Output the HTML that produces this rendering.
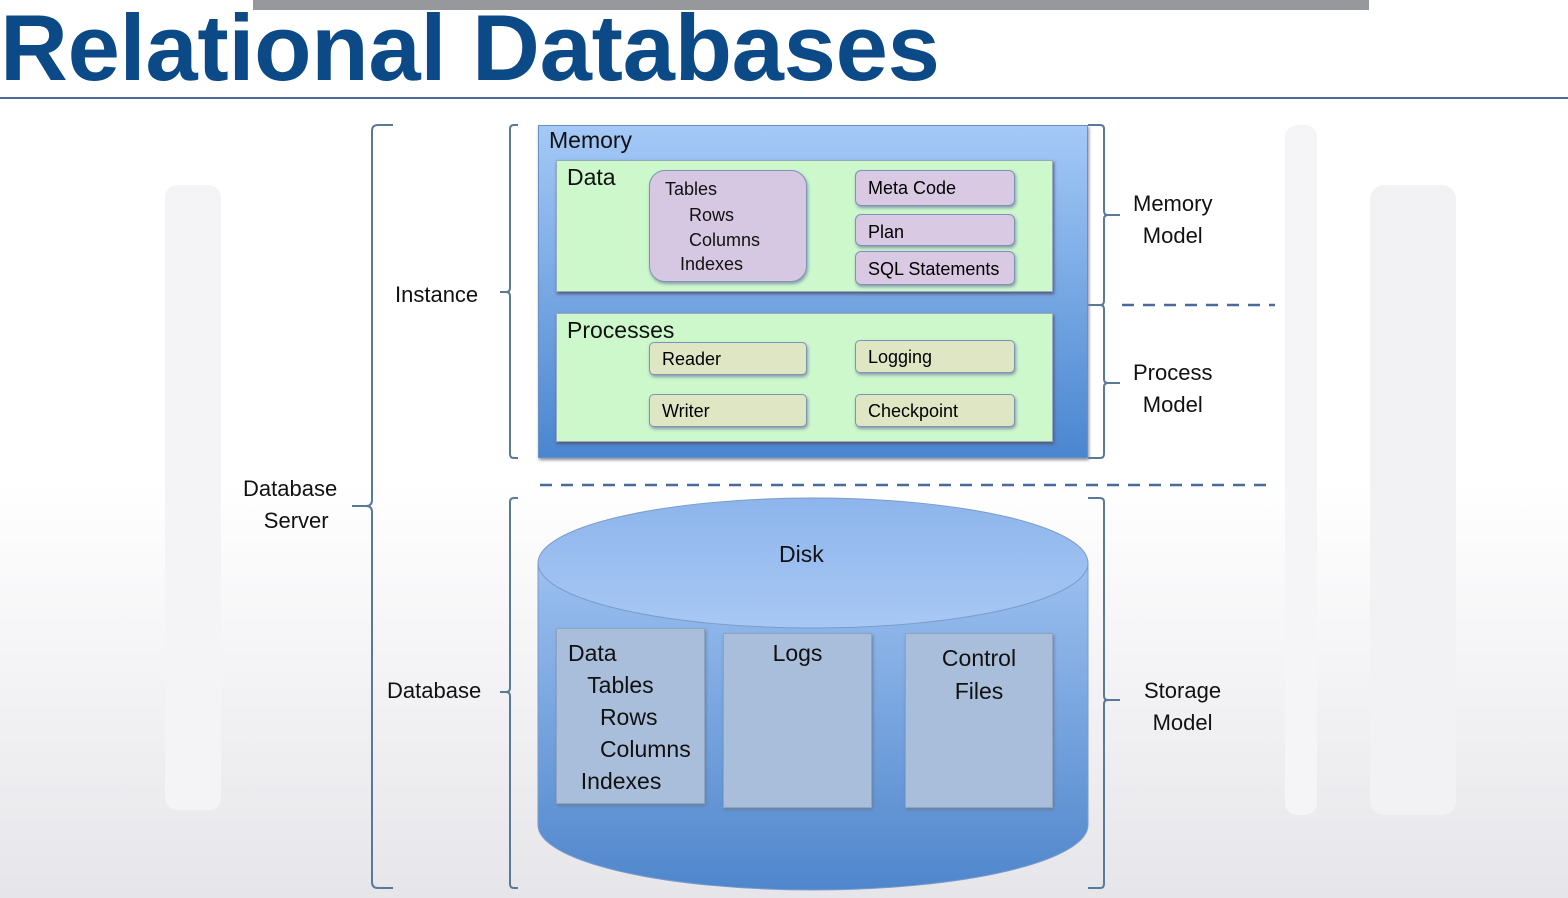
<!DOCTYPE html>
<html><head><meta charset="utf-8"><style>
body{margin:0;width:1568px;height:898px;overflow:hidden;font-family:"Liberation Sans",sans-serif;background:linear-gradient(#fff 0,#fff 480px,#e6e6ea 898px);position:relative}
.a{position:absolute}
.t{position:absolute;font-size:22px;color:#111;white-space:nowrap}
.pb{position:absolute;background:#d9c9e3;border:1.5px solid #7d94b8;border-radius:6px;box-shadow:1px 2px 3px #8899aa;font-size:18px;box-sizing:border-box;padding:4px 12px}
.gb{position:absolute;background:#dfe6c4;border:1.5px solid #7d94b8;border-radius:5px;box-shadow:1px 2px 3px #8899aa;font-size:18px;box-sizing:border-box;padding:6px 12px}
.db{position:absolute;background:#a9bedb;border:1px solid #8fa4c2;box-shadow:1px 2px 3px #6680a0;box-sizing:border-box;font-size:23px;color:#111}
</style></head><body>
<div class="a" style="left:0;top:-2px;font-size:94px;font-weight:bold;color:#0b4a87;letter-spacing:-0.3px;line-height:100px;white-space:nowrap">Relational Databases</div>
<div class="a" style="left:253px;top:0;width:1116px;height:10px;background:#97989c"></div>
<div class="a" style="left:0;top:97px;width:1568px;height:2px;background:#4a6a9a"></div>
<div class="a" style="left:165px;top:185px;width:56px;height:625px;background:#f4f4f6;border-radius:12px"></div>
<div class="a" style="left:1285px;top:125px;width:32px;height:690px;background:#f5f5f7;border-radius:12px"></div>
<div class="a" style="left:1370px;top:185px;width:86px;height:630px;background:#f2f2f4;border-radius:14px"></div>

<svg class="a" style="left:0;top:0" width="1568" height="898">
<g fill="none" stroke="#5a7898" stroke-width="2">
<path d="M393 125 H378 Q372 125 372 131 V500 Q372 506 366 506 H352 M366 506 Q372 506 372 512 V882 Q372 888 378 888 H393"/>
<path d="M518 125 H514 Q510 125 510 129 V288 Q510 292 506 292 H500 M506 292 Q510 292 510 296 V454 Q510 458 514 458 H518"/>
<path d="M518 498 H514 Q510 498 510 502 V688 Q510 692 506 692 H500 M506 692 Q510 692 510 696 V884 Q510 888 514 888 H518"/>
<path d="M1088 125 H1100 Q1104 125 1104 129 V211 Q1104 215 1108 215 H1120 M1108 215 Q1104 215 1104 219 V301 Q1104 305 1100 305 H1088"/>
<path d="M1088 305 H1100 Q1104 305 1104 309 V379 Q1104 383 1108 383 H1120 M1108 383 Q1104 383 1104 387 V454 Q1104 458 1100 458 H1088"/>
<path d="M1088 498 H1100 Q1104 498 1104 502 V696 Q1104 700 1108 700 H1120 M1108 700 Q1104 700 1104 704 V884 Q1104 888 1100 888 H1088"/>
<path d="M1122 305 H1275 M540 485 H1275" stroke="#4a6a9a" stroke-dasharray="12 9" stroke-width="2.5"/>
</g>
<defs>
<linearGradient id="cy" x1="0" y1="0" x2="0" y2="1"><stop offset="0" stop-color="#9cc0f0"/><stop offset="1" stop-color="#4f86cc"/></linearGradient>
<linearGradient id="top" x1="0" y1="0" x2="0" y2="1"><stop offset="0" stop-color="#8db5ec"/><stop offset="1" stop-color="#a8c8f4"/></linearGradient>
</defs>
<path d="M538 563 V825 A275 65 0 0 0 1088 825 V563 Z" fill="url(#cy)" stroke="#7a9cc8"/>
<ellipse cx="813" cy="563" rx="275" ry="65" fill="url(#top)" stroke="#7a9cc8"/>
</svg>

<div class="a" style="left:538px;top:125px;width:550px;height:333px;background:linear-gradient(#a4c9f7,#4a86d0);border:1px solid #6a90c0;box-sizing:border-box;box-shadow:1px 2px 3px #889"></div>
<div class="t" style="left:549px;top:127px;font-size:23px">Memory</div>
<div class="a" style="left:556px;top:160px;width:497px;height:132px;background:#ccf8cc;border:1px solid #9ab;box-sizing:border-box;box-shadow:1px 2px 3px #557"></div>
<div class="t" style="left:567px;top:164px;font-size:23px">Data</div>
<div class="a" style="left:649px;top:170px;width:158px;height:112px;background:#d6c8e2;border:1.5px solid #7d94b8;border-radius:16px;box-sizing:border-box;box-shadow:1px 2px 3px #8899aa"></div>
<div class="t" style="left:665px;top:179px;font-size:18px">Tables</div>
<div class="t" style="left:689px;top:205px;font-size:18px">Rows</div>
<div class="t" style="left:689px;top:230px;font-size:18px">Columns</div>
<div class="t" style="left:680px;top:254px;font-size:18px">Indexes</div>
<div class="pb" style="left:855px;top:170px;width:160px;height:36px;padding-top:7px">Meta Code</div>
<div class="pb" style="left:855px;top:214px;width:160px;height:32px;padding-top:7px">Plan</div>
<div class="pb" style="left:855px;top:251px;width:160px;height:34px;padding-top:7px">SQL Statements</div>
<div class="a" style="left:556px;top:313px;width:497px;height:129px;background:#ccf8cc;border:1px solid #9ab;box-sizing:border-box;box-shadow:1px 2px 3px #557"></div>
<div class="t" style="left:567px;top:317px;font-size:23px">Processes</div>
<div class="gb" style="left:649px;top:342px;width:158px;height:33px">Reader</div>
<div class="gb" style="left:855px;top:340px;width:160px;height:33px">Logging</div>
<div class="gb" style="left:649px;top:394px;width:158px;height:33px">Writer</div>
<div class="gb" style="left:855px;top:394px;width:160px;height:33px">Checkpoint</div>

<div class="t" style="left:779px;top:541px;font-size:23px">Disk</div>
<div class="db" style="left:556px;top:628px;width:149px;height:176px;line-height:32px;padding:8px 0 0 11px">Data<br>&nbsp;&nbsp;&nbsp;Tables<br>&nbsp;&nbsp;&nbsp;&nbsp;&nbsp;Rows<br>&nbsp;&nbsp;&nbsp;&nbsp;&nbsp;Columns<br>&nbsp;&nbsp;Indexes</div>
<div class="db" style="left:723px;top:633px;width:149px;height:175px;text-align:center;padding-top:6px">Logs</div>
<div class="db" style="left:905px;top:633px;width:148px;height:175px;text-align:center;padding-top:8px;line-height:33px">Control<br>Files</div>

<div class="t" style="left:395px;top:282px">Instance</div>
<div class="t" style="left:243px;top:473px;text-align:center;line-height:32px">Database<br>&nbsp;&nbsp;Server</div>
<div class="t" style="left:387px;top:678px">Database</div>
<div class="t" style="left:1133px;top:188px;text-align:center;line-height:32px">Memory<br>Model</div>
<div class="t" style="left:1133px;top:357px;text-align:center;line-height:32px">Process<br>Model</div>
<div class="t" style="left:1144px;top:675px;text-align:center;line-height:32px">Storage<br>Model</div>
</body></html>
